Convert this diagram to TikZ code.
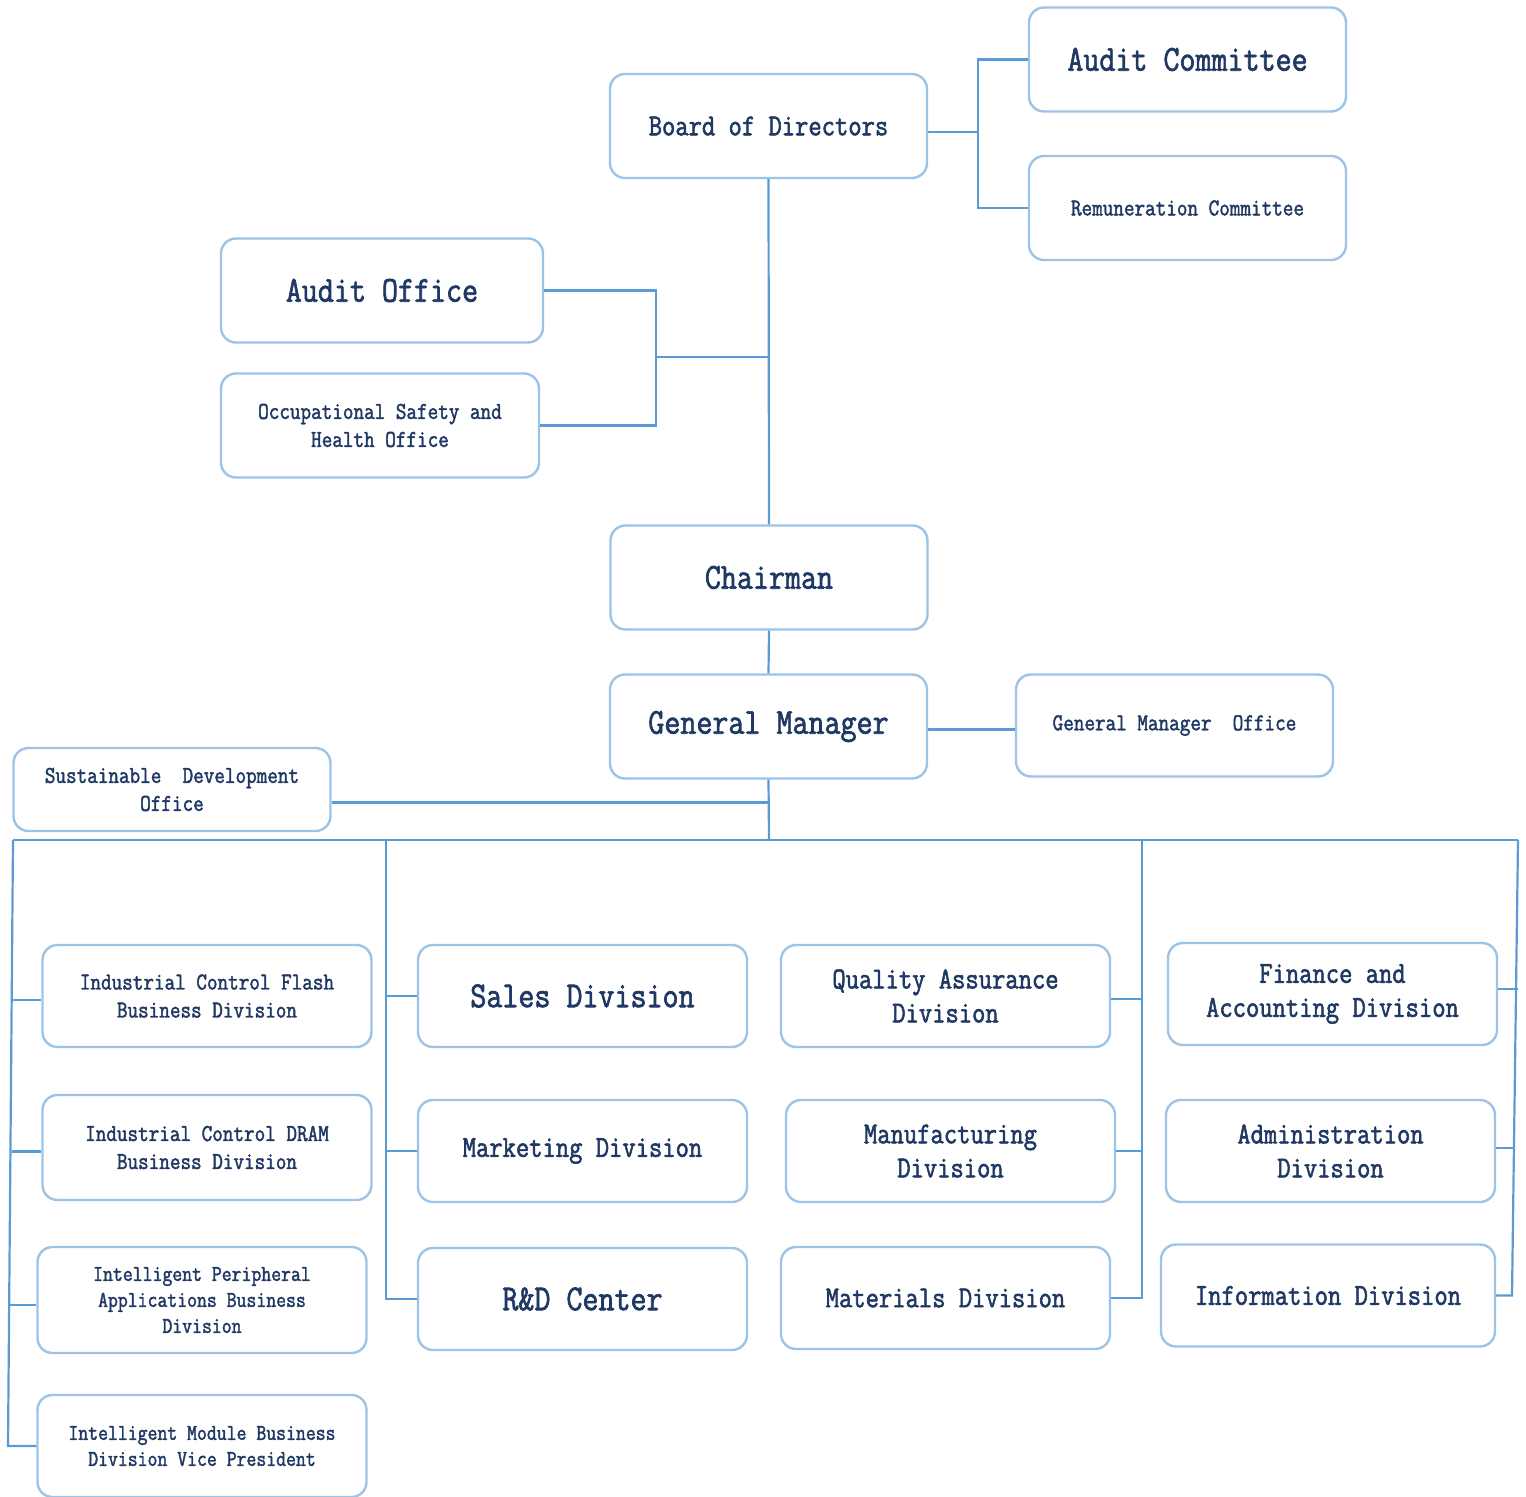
\documentclass[tikz,border=0pt]{standalone}
\usepackage{fontspec}
\usepackage{tikz}
\usetikzlibrary{positioning}
\newfontfamily\orgfont[FakeStretch=0.85,FakeBold=1.8]{Latin Modern Mono}
\newcommand\fbig{\orgfont\fontsize{18.3}{20.5}\selectfont}
\newcommand\fmid{\orgfont\fontsize{15.2}{17}\selectfont}
\newcommand\fsml{\orgfont\fontsize{12.1}{14}\selectfont}
\newcommand\ftny{\orgfont\fontsize{11.3}{13}\selectfont}
\definecolor{linkblue}{HTML}{5B9BD5}
\definecolor{boxblue}{HTML}{9DC3E6}
\definecolor{textnavy}{HTML}{1F3864}
\tikzstyle{unit} = [draw=boxblue, line width=1.2pt, rounded corners=7.5pt, fill=white,
  text=textnavy, align=center, inner sep=0pt, minimum width=158.5pt, minimum height=52pt]
\tikzstyle{div} = [unit, minimum width=164.5pt, minimum height=51pt]
\tikzstyle{link} = [draw=linkblue, line width=1.1pt]

\begin{document}
\begin{tikzpicture}[x=0.5pt,y=-0.5pt]
    \useasboundingbox (0,0) rectangle (1526,1497);

    % Top of the chart: board and committees
    \node[unit,font=\fmid] (bod) at (768.5,126) {Board of Directors};
    \node[unit,font=\fbig] (ac) at (1187.5,59.5) {Audit Committee};
    \node[unit,font=\fsml] (rc) at (1187.5,208) {Remuneration Committee};
    \coordinate (bj) at (978,132);
    \draw[link] ([yshift=-3pt]bod.east) -- (bj);
    \draw[link] (ac.west) -| (bj) |- (rc.west);

    % Offices under the board
    \node[unit,minimum width=161pt,font=\fbig] (ao) at (382,290.5) {Audit Office};
    \node[unit,minimum width=159pt,font=\fsml] (osh) at (380,425.5) {Occupational Safety and\\Health Office};
    \coordinate (oj) at (656,357);
    \draw[link] (ao.east) -| (oj) |- (osh.east);

    % Chairman and general manager
    \node[unit,font=\fbig] (chair) at (769,577.5) {Chairman};
    \node[unit,font=\fbig] (gm) at (768.5,726.5) {General Manager};
    \node[unit,minimum height=51pt,font=\fsml] (gmo) at (1174.5,725.5) {General Manager~ Office};
    \node[unit,minimum height=41.5pt,font=\fsml] (sdo) at (172,789.5) {Sustainable~ Development\\Office};
    \draw[link] (bod.south) -- (chair.north);
    \draw[link] (oj) -- (oj -| bod.south);
    \draw[link] (chair.south) -- (gm.north);
    \draw[link] ([yshift=-1.5pt]gm.east) -- ([yshift=-1.5pt]gm.east -| gmo.west);
    \draw[link] ([yshift=-6.5pt]sdo.east) -- ([yshift=-6.5pt]sdo.east -| gm.south);

    % Bus to the divisions
    \coordinate (bus) at (769,840);
    \coordinate (c1) at (13,840);
    \coordinate (c2) at (386,840);
    \coordinate (c3) at (1142,840);
    \coordinate (c4) at (1518,840);
    \draw[link] (gm.south) -- (bus);
    \draw[link] (c1) -- (c4);

    % First column
    \node[div,font=\fsml] (icf) at (207,996) {Industrial Control Flash\\Business Division};
    \node[div,minimum height=52.5pt,font=\fsml] (icd) at (207,1147.5) {Industrial Control DRAM\\Business Division};
    \node[div,minimum height=53pt,font=\ftny] (ipa) at (202,1300) {Intelligent Peripheral\\Applications Business\\Division};
    \node[div,font=\ftny] (imb) at (202,1446) {Intelligent Module Business\\Division Vice President};
    \coordinate (c1b) at (8,1446);
    \draw[link] (c1) -- (c1b) -- (imb.west);
    \draw[link] ([yshift=-2pt]icf.west) -- ++(-30,0);
    \draw[link] ([yshift=-2pt]icd.west) -- ++(-29,0);
    \draw[link] ([yshift=-2.5pt]ipa.west) -- ++(-27,0);

    % Second column
    \node[div,font=\fbig] (sales) at (582.5,996) {Sales Division};
    \node[div,font=\fmid] (mkt) at (582.5,1151) {Marketing Division};
    \node[div,font=\fbig] (rd) at (582.5,1299) {R\&D Center};
    \draw[link] (c2) |- (rd.west);
    \draw[link] (sales.west) -- (sales.west -| c2);
    \draw[link] (mkt.west) -- (mkt.west -| c2);

    % Third column
    \node[div,font=\fmid] (qa) at (945.5,996) {Quality Assurance\\Division};
    \node[div,font=\fmid] (mfg) at (950.5,1151) {Manufacturing\\Division};
    \node[div,font=\fmid] (mat) at (945.5,1298) {Materials Division};
    \draw[link] (c3) |- (mat.east);
    \draw[link] ([yshift=-1.5pt]qa.east) -- ([yshift=-1.5pt]qa.east -| c3);
    \draw[link] (mfg.east) -- (mfg.east -| c3);

    % Fourth column
    \node[div,font=\fmid] (fin) at (1332.5,994) {Finance and\\Accounting Division};
    \node[div,minimum height=51pt,font=\fmid] (adm) at (1330.5,1151) {Administration\\Division};
    \node[div,minimum width=167pt,font=\fmid] (info) at (1328,1295.5) {Information Division};
    \coordinate (c4b) at (1512,1295.5);
    \draw[link] (c4) -- (c4b) -- (info.east);
    \draw[link] ([yshift=2.5pt]fin.east) -- ++(20,0);
    \draw[link] ([yshift=1.5pt]adm.east) -- ++(18,0);
\end{tikzpicture}
\end{document}
